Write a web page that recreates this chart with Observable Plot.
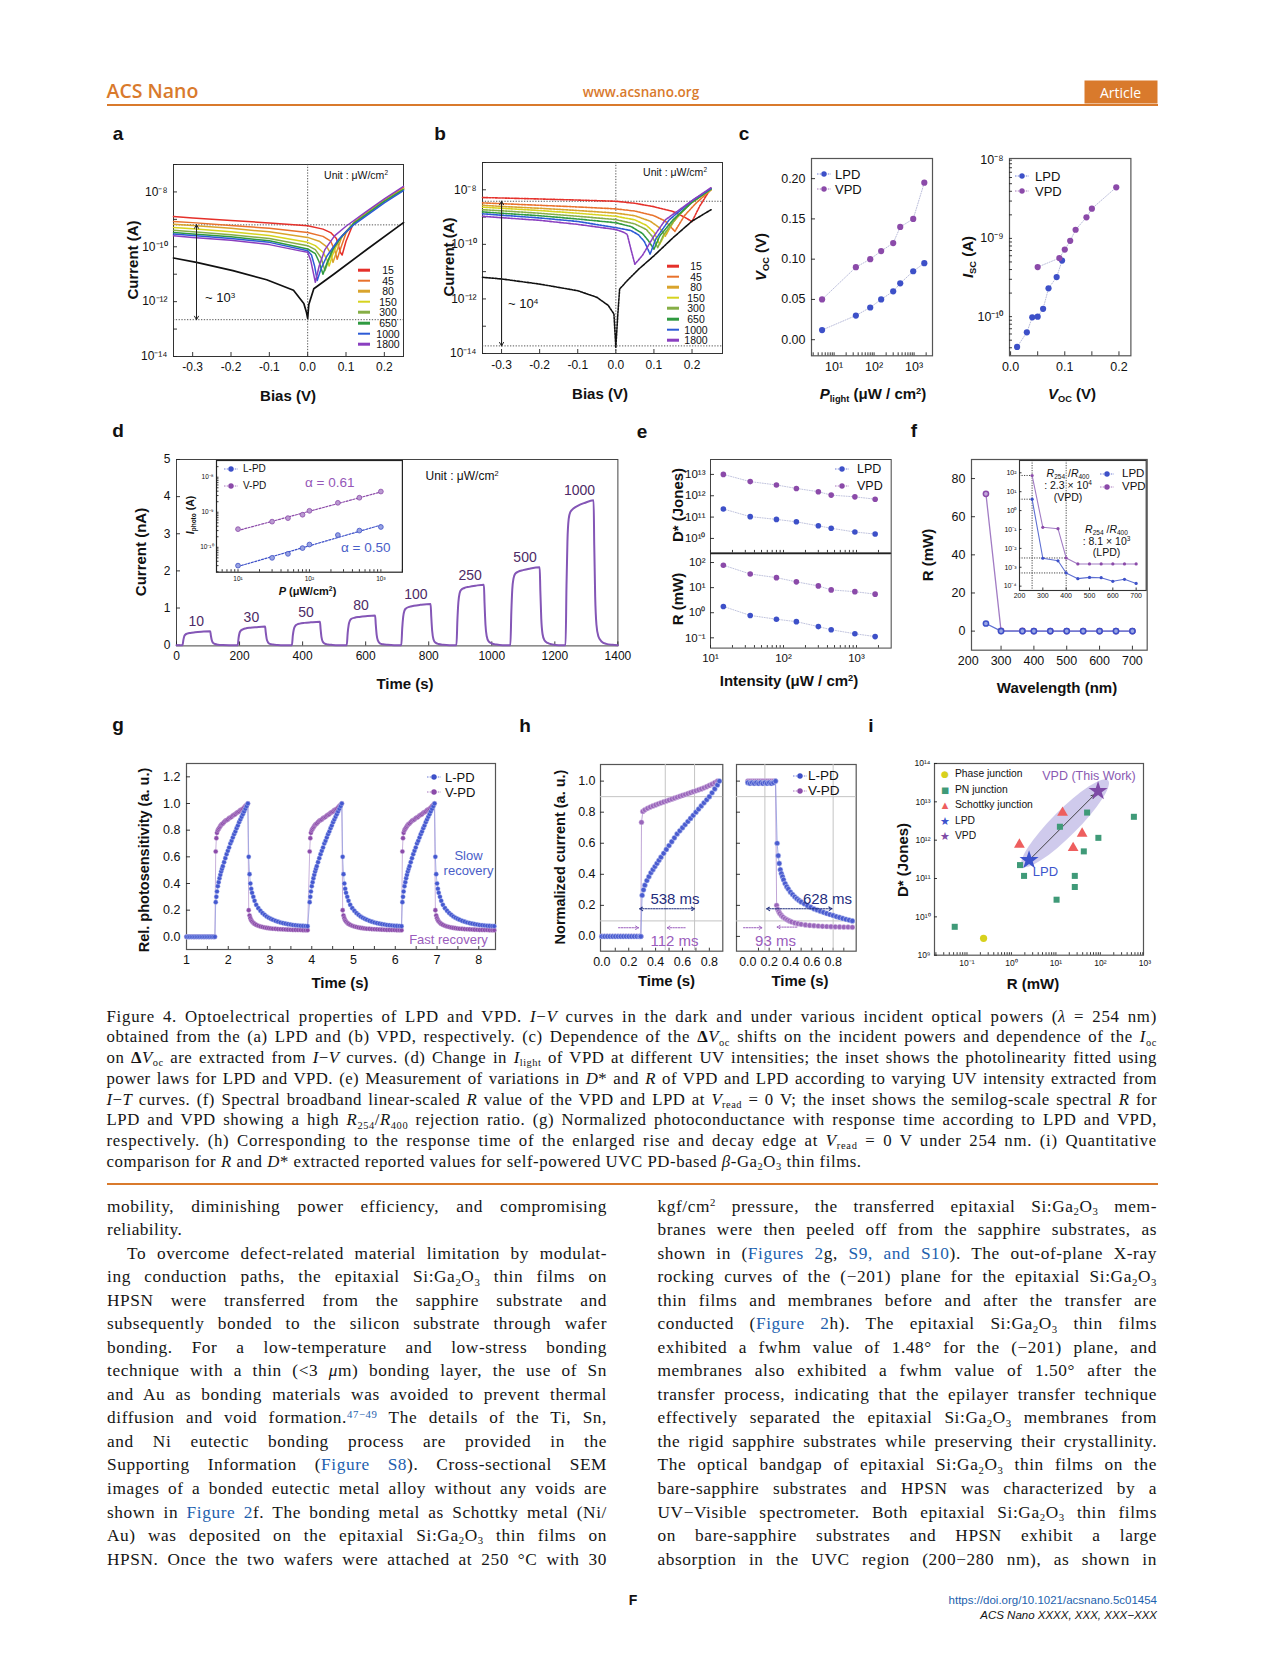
<!DOCTYPE html>
<html><head><meta charset="utf-8">
<script src="https://cdn.jsdelivr.net/npm/d3@7"></script>
<script src="https://cdn.jsdelivr.net/npm/@observablehq/plot@0.6"></script>
<style>
html,body{margin:0;padding:0;background:#fff}
#page{position:relative;width:1266px;height:1669px;overflow:hidden;background:#fff}
#page > svg{position:absolute;overflow:visible}
.t{position:absolute;white-space:nowrap;line-height:1}
.t sup,.ln sup{font-size:0.62em;vertical-align:0;position:relative;top:-0.55em;line-height:0}
.t sub,.ln sub{font-size:0.62em;vertical-align:0;position:relative;top:0.32em;line-height:0}
.ln{position:absolute;white-space:nowrap;font-family:"Liberation Serif","Times New Roman",serif;color:#151515;line-height:1}
.lk{color:#1d5fae}
</style></head><body><div id="page"></div><script>
// ================= DATA =================
// (a) LPD I-V curves, intensities in uW/cm2
const powers = [15, 45, 80, 150, 300, 650, 1000, 1800];
const curveColors = ['#e5302a', '#e8722c', '#d9a42c', '#d6d31f', '#86ae46', '#2f9a40', '#2d5bd6', '#8a3fc0'];
const aBiasDark = [-0.35, -0.29, -0.195, -0.107, -0.037, -0.01, -0.003, 0, 0.003, 0.016, 0.068, 0.156, 0.25];
const aCurrDark = [3.9e-11, 2.7e-11, 1.35e-11, 6.3e-12, 2.6e-12, 8.5e-13, 4.0e-13, 2.45e-13, 7.9e-13, 2.95e-12, 1.0e-11, 8.3e-11, 7.6e-10];
const aBias = [
  [-0.35, -0.3, -0.2, -0.1, 0, 0.04, 0.06, 0.075, 0.085, 0.09, 0.1, 0.12, 0.15, 0.2, 0.25],
  [-0.35, -0.3, -0.2, -0.1, 0, 0.04, 0.06, 0.07, 0.077, 0.085, 0.1, 0.12, 0.15, 0.2, 0.25],
  [-0.35, -0.3, -0.2, -0.1, 0, 0.03, 0.05, 0.06, 0.066, 0.075, 0.09, 0.12, 0.15, 0.2, 0.25],
  [-0.35, -0.3, -0.2, -0.1, 0, 0.02, 0.04, 0.05, 0.056, 0.065, 0.08, 0.1, 0.12, 0.15, 0.2, 0.25],
  [-0.35, -0.3, -0.2, -0.1, 0, 0.02, 0.035, 0.045, 0.055, 0.07, 0.09, 0.12, 0.15, 0.2, 0.25],
  [-0.35, -0.3, -0.2, -0.1, 0, 0.02, 0.03, 0.04, 0.05, 0.065, 0.085, 0.12, 0.15, 0.2, 0.25],
  [-0.35, -0.3, -0.2, -0.1, 0, 0.01, 0.018, 0.025, 0.035, 0.05, 0.08, 0.1, 0.12, 0.15, 0.2, 0.25],
  [-0.35, -0.3, -0.2, -0.1, -0.02, 0, 0.008, 0.015, 0.02, 0.03, 0.045, 0.07, 0.1, 0.15, 0.2, 0.25]
];
const aCurr = [
  [1.26e-9, 1.12e-9, 9.1e-10, 7.4e-10, 5.8e-10, 4.4e-10, 3.3e-10, 2.0e-10, 6.3e-11, 5.0e-11, 1.6e-10, 7.6e-10, 1.6e-9, 5.0e-9, 1.4e-8],
  [8.3e-10, 7.6e-10, 6.0e-10, 4.7e-10, 3.3e-10, 2.4e-10, 1.6e-10, 7.9e-11, 3.5e-11, 7.9e-11, 3.2e-10, 7.1e-10, 1.6e-9, 5.0e-9, 1.38e-8],
  [6.6e-10, 6.0e-10, 4.7e-10, 3.5e-10, 2.2e-10, 1.6e-10, 1.0e-10, 5.6e-11, 2.7e-11, 6.3e-11, 2.5e-10, 7.1e-10, 1.5e-9, 4.8e-9, 1.32e-8],
  [5.0e-10, 4.5e-10, 3.5e-10, 2.6e-10, 1.45e-10, 1.1e-10, 6.3e-11, 3.5e-11, 2.0e-11, 5.0e-11, 1.6e-10, 3.5e-10, 7.1e-10, 1.5e-9, 4.7e-9, 1.26e-8],
  [4.0e-10, 3.5e-10, 2.75e-10, 2.0e-10, 1.1e-10, 7.9e-11, 4.0e-11, 1.35e-11, 3.2e-11, 1.0e-10, 2.5e-10, 7.1e-10, 1.45e-9, 4.6e-9, 1.26e-8],
  [3.3e-10, 2.95e-10, 2.3e-10, 1.66e-10, 8.3e-11, 5.6e-11, 2.8e-11, 1.0e-11, 2.5e-11, 7.9e-11, 2.0e-10, 7.1e-10, 1.4e-9, 4.5e-9, 1.2e-8],
  [2.9e-10, 2.6e-10, 2.0e-10, 1.45e-10, 7.2e-11, 5.0e-11, 2.0e-11, 5.9e-12, 1.6e-11, 4.5e-11, 1.8e-10, 3.5e-10, 6.3e-10, 1.26e-9, 4.0e-9, 1.12e-8],
  [2.5e-10, 2.2e-10, 1.74e-10, 1.2e-10, 7.1e-11, 6.3e-11, 3.2e-11, 1.1e-11, 5.1e-12, 2.0e-11, 7.9e-11, 2.5e-10, 5.6e-10, 1.8e-9, 5.6e-9, 1.6e-8]
];
const aRefLevels = [6.3e-10, 2.2e-13];
const aArrowBias = -0.29;

// (b) VPD I-V curves
const bBiasDark = [-0.35, -0.3, -0.2, -0.1, -0.05, -0.02, -0.005, 0, 0.005, 0.01, 0.03, 0.06, 0.1, 0.15, 0.2, 0.25];
const bCurrDark = [6.2e-12, 5.4e-12, 3.5e-12, 2.0e-12, 1.15e-12, 5.8e-13, 2.8e-13, 1.7e-14, 2.5e-13, 2.3e-12, 4.7e-12, 1.23e-11, 3.8e-11, 1.74e-10, 7.1e-10, 1.86e-9];
const bBias = [
  [-0.35, -0.3, -0.2, -0.1, 0, 0.05, 0.1, 0.15, 0.18, 0.2, 0.22, 0.25],
  [-0.35, -0.3, -0.2, -0.1, 0, 0.05, 0.1, 0.13, 0.155, 0.18, 0.21, 0.25],
  [-0.35, -0.3, -0.2, -0.1, 0, 0.05, 0.09, 0.115, 0.13, 0.15, 0.19, 0.25],
  [-0.35, -0.3, -0.2, -0.1, 0, 0.05, 0.08, 0.1, 0.115, 0.13, 0.16, 0.2, 0.25],
  [-0.35, -0.3, -0.2, -0.1, 0, 0.05, 0.08, 0.095, 0.11, 0.125, 0.16, 0.2, 0.25],
  [-0.35, -0.3, -0.2, -0.1, 0, 0.04, 0.07, 0.085, 0.1, 0.115, 0.15, 0.2, 0.25],
  [-0.35, -0.3, -0.2, -0.1, 0, 0.04, 0.06, 0.075, 0.09, 0.105, 0.14, 0.2, 0.25],
  [-0.35, -0.3, -0.2, -0.1, 0, 0.02, 0.03, 0.04, 0.05, 0.07, 0.1, 0.13, 0.17, 0.21, 0.25]
];
const bCurr = [
  [5.2e-9, 5.0e-9, 4.6e-9, 4.2e-9, 3.8e-9, 3.2e-9, 2.4e-9, 1.6e-9, 1.0e-9, 6.8e-10, 2.5e-9, 1.15e-8],
  [3.3e-9, 3.1e-9, 2.7e-9, 2.35e-9, 2.0e-9, 1.66e-9, 1.12e-9, 7.1e-10, 3.0e-10, 1.12e-9, 3.2e-9, 1.0e-8],
  [2.7e-9, 2.45e-9, 2.1e-9, 1.74e-9, 1.4e-9, 1.12e-9, 7.1e-10, 4.0e-10, 2.0e-10, 6.3e-10, 2.8e-9, 1.0e-8],
  [2.3e-9, 2.1e-9, 1.74e-9, 1.38e-9, 1.07e-9, 7.9e-10, 5.0e-10, 2.8e-10, 1.0e-10, 2.5e-10, 1.0e-9, 3.5e-9, 1.05e-8],
  [1.86e-9, 1.7e-9, 1.38e-9, 1.07e-9, 8.1e-10, 5.6e-10, 3.5e-10, 2.0e-10, 7.6e-11, 2.2e-10, 1.0e-9, 3.5e-9, 1.05e-8],
  [1.55e-9, 1.38e-9, 1.12e-9, 8.5e-10, 6.2e-10, 4.5e-10, 2.5e-10, 1.4e-10, 6.6e-11, 2.0e-10, 7.9e-10, 3.5e-9, 1.07e-8],
  [1.32e-9, 1.17e-9, 9.3e-10, 6.9e-10, 4.1e-10, 3.2e-10, 2.2e-10, 1.26e-10, 4.4e-11, 1.6e-10, 7.9e-10, 4.0e-9, 1.12e-8],
  [1.07e-9, 9.5e-10, 7.6e-10, 5.4e-10, 3.5e-10, 2.8e-10, 2.3e-10, 6.3e-11, 1.86e-11, 4.0e-11, 2.0e-10, 7.9e-10, 2.0e-9, 5.0e-9, 1.2e-8]
];
const bRefLevels = [3.8e-9, 1.9e-14];
const bArrowBias = -0.3;

// (c) Voc vs P and Isc vs Voc
const cPower = [5, 35, 80, 150, 300, 450, 950, 1800];
const cVocLPD = [0.012, 0.030, 0.040, 0.050, 0.060, 0.070, 0.085, 0.095];
const cVocVPD = [0.050, 0.090, 0.100, 0.110, 0.120, 0.140, 0.150, 0.195];
const cIscLPD = [4.1e-11, 6.3e-11, 9.8e-11, 1.0e-10, 1.26e-10, 2.3e-10, 3.2e-10, 5.2e-10];
const cIscVPD = [4.3e-10, 5.6e-10, 7.2e-10, 9.3e-10, 1.29e-9, 1.86e-9, 2.4e-9, 4.5e-9];

// (d) transient photocurrent of VPD
const dTime = [0, 19, 22, 25, 29, 34, 44, 59, 79, 107, 109, 112, 116, 122, 132, 147, 167,
  194, 197, 200, 204, 209, 219, 234, 254, 281, 283, 286, 290, 296, 306, 321, 341,
  366, 369, 372, 376, 381, 391, 406, 426, 455, 457, 460, 464, 470, 480, 495, 515,
  540, 543, 546, 550, 555, 565, 580, 600, 630, 632, 635, 639, 645, 655, 670, 690,
  713, 716, 719, 723, 728, 738, 753, 773, 806, 808, 811, 815, 821, 831, 846, 866,
  888, 891, 894, 898, 903, 913, 928, 948, 975, 977, 980, 984, 990, 1000, 1015, 1035,
  1059, 1062, 1065, 1069, 1074, 1084, 1099, 1119, 1152, 1154, 1157, 1161, 1167, 1177, 1192, 1212,
  1234, 1237, 1240, 1244, 1249, 1259, 1274, 1294, 1323, 1325, 1328, 1332, 1338, 1348, 1363, 1383, 1400];
const dCurrent = [0, 0, 0.15, 0.25, 0.29, 0.31, 0.33, 0.345, 0.36, 0.376, 0.26, 0.13, 0.06, 0.03, 0.012, 0.004, 0,
  0, 0.2, 0.33, 0.39, 0.42, 0.45, 0.47, 0.485, 0.50, 0.35, 0.17, 0.08, 0.035, 0.015, 0.005, 0,
  0, 0.26, 0.42, 0.51, 0.55, 0.58, 0.6, 0.615, 0.63, 0.44, 0.21, 0.09, 0.04, 0.018, 0.006, 0,
  0, 0.33, 0.54, 0.66, 0.71, 0.74, 0.76, 0.78, 0.80, 0.56, 0.27, 0.12, 0.05, 0.022, 0.008, 0,
  0, 0.46, 0.76, 0.93, 0.99, 1.03, 1.06, 1.085, 1.11, 0.78, 0.38, 0.16, 0.07, 0.03, 0.01, 0,
  0, 0.68, 1.15, 1.4, 1.49, 1.54, 1.57, 1.60, 1.63, 1.14, 0.55, 0.24, 0.1, 0.045, 0.015, 0,
  0, 0.88, 1.5, 1.8, 1.92, 1.98, 2.02, 2.06, 2.10, 1.47, 0.71, 0.3, 0.13, 0.06, 0.02, 0,
  0, 1.6, 2.8, 3.4, 3.58, 3.68, 3.76, 3.83, 3.90, 2.7, 1.3, 0.55, 0.24, 0.1, 0.035, 0.01, 0];
const dPulseOn = [19, 194, 366, 540, 713, 888, 1059, 1234];
const dPulseOff = [107, 281, 455, 630, 806, 975, 1152, 1323];
const dPulsePeak = [0.376, 0.50, 0.63, 0.80, 1.11, 1.63, 2.10, 3.90];
const dPulseLabel = ['10', '30', '50', '80', '100', '250', '500', '1000'];
// (d) inset photolinearity
const dInsetP = [10, 30, 50, 80, 100, 250, 500, 1000];
const dInsetVPD = [3.3e-10, 5.4e-10, 6.8e-10, 8.5e-10, 1.1e-9, 1.86e-9, 2.6e-9, 3.9e-9];
const dInsetLPD = [3.0e-11, 5.0e-11, 6.5e-11, 9.5e-11, 1.2e-10, 2.24e-10, 3.0e-10, 3.8e-10];

// (e) D* and R vs intensity
const eIntensity = [15, 35, 80, 150, 300, 450, 950, 1800];
const eDetVPD = [1.0e13, 4.6e12, 3.2e12, 2.2e12, 1.55e12, 1.07e12, 8.9e11, 6.9e11];
const eDetLPD = [2.4e11, 1.05e11, 7.8e10, 6.0e10, 3.9e10, 3.0e10, 2.0e10, 1.6e10];
const eRespVPD = [78, 35, 25, 17, 11.7, 8.1, 6.9, 5.5];
const eRespLPD = [1.78, 0.78, 0.55, 0.44, 0.28, 0.21, 0.145, 0.112];

// (f) spectral responsivity
const fWavelength = [254, 300, 365, 400, 450, 500, 550, 600, 650, 700];
const fRespVPD = [72, 0.13, 0.11, 0.0031, 0.0015, 0.0015, 0.0015, 0.0015, 0.0015, 0.0015];
const fRespLPD = [4.0, 0.003, 0.0022, 0.0005, 0.00025, 0.00029, 0.00028, 0.00018, 0.00023, 0.00014];

// (g) normalized transient response (shape read per edge, three pulses)
const gPulseOn = [1.70, 3.95, 6.17];
const gBaseTime = [1.0, 1.04, 1.08, 1.12, 1.16, 1.2, 1.24, 1.28, 1.32, 1.36, 1.4, 1.44, 1.48, 1.52, 1.56, 1.6, 1.64, 1.68];
const gRiseTau = [0, 0.015, 0.03, 0.05, 0.07, 0.09, 0.11, 0.13, 0.15, 0.17, 0.2, 0.23, 0.26, 0.29, 0.32, 0.35, 0.38, 0.41, 0.44, 0.47, 0.5, 0.53, 0.56, 0.59, 0.62, 0.65, 0.68, 0.71, 0.74, 0.77];
const gRiseLPD = [0.26, 0.3, 0.34, 0.38, 0.41, 0.44, 0.465, 0.49, 0.51, 0.53, 0.56, 0.59, 0.62, 0.645, 0.67, 0.7, 0.72, 0.745, 0.77, 0.79, 0.815, 0.835, 0.86, 0.88, 0.9, 0.92, 0.94, 0.96, 0.98, 1.0];
const gRiseVPD = [0.64, 0.74, 0.78, 0.8, 0.81, 0.82, 0.83, 0.84, 0.845, 0.85, 0.86, 0.87, 0.875, 0.88, 0.89, 0.895, 0.9, 0.91, 0.915, 0.92, 0.93, 0.935, 0.94, 0.95, 0.955, 0.96, 0.97, 0.98, 0.99, 1.0];
const gDecayTau = [0.02, 0.04, 0.06, 0.08, 0.1, 0.13, 0.16, 0.2, 0.25, 0.3, 0.35, 0.4, 0.45, 0.5, 0.55, 0.6, 0.66, 0.72, 0.78, 0.84, 0.9, 0.96, 1.02, 1.08, 1.14, 1.2, 1.26, 1.32, 1.38, 1.43];
const gDecayLPD = [0.6, 0.47, 0.4, 0.36, 0.33, 0.3, 0.27, 0.24, 0.215, 0.195, 0.178, 0.165, 0.153, 0.143, 0.135, 0.128, 0.12, 0.114, 0.108, 0.103, 0.099, 0.095, 0.092, 0.089, 0.087, 0.085, 0.083, 0.082, 0.081, 0.08];
const gDecayVPD = [0.2, 0.16, 0.14, 0.125, 0.115, 0.105, 0.097, 0.09, 0.083, 0.078, 0.074, 0.07, 0.067, 0.065, 0.063, 0.061, 0.06, 0.058, 0.057, 0.056, 0.055, 0.054, 0.053, 0.052, 0.052, 0.051, 0.051, 0.05, 0.05, 0.05];

// (h) enlarged rise (left) and decay (right)
const hRiseTimeLPD = [0, 0.02, 0.04, 0.06, 0.08, 0.1, 0.12, 0.14, 0.16, 0.18, 0.2, 0.22, 0.24, 0.26, 0.28, 0.29, 0.30, 0.31, 0.32, 0.335, 0.35, 0.365, 0.38, 0.395, 0.41, 0.425, 0.44, 0.46, 0.48, 0.5, 0.52, 0.54, 0.56, 0.58, 0.6, 0.62, 0.64, 0.66, 0.68, 0.7, 0.72, 0.74, 0.76, 0.78, 0.8, 0.82, 0.84, 0.86, 0.875];
const hRiseLPD = [0, 0, 0, 0, 0, 0, 0, 0, 0, 0, 0, 0, 0, 0, 0, 0, 0.265, 0.30, 0.33, 0.36, 0.385, 0.41, 0.43, 0.45, 0.47, 0.49, 0.51, 0.535, 0.56, 0.585, 0.61, 0.635, 0.66, 0.68, 0.70, 0.72, 0.74, 0.76, 0.78, 0.80, 0.82, 0.84, 0.86, 0.88, 0.90, 0.925, 0.95, 0.975, 1.0];
const hRiseTimeVPD = [0, 0.02, 0.04, 0.06, 0.08, 0.1, 0.12, 0.14, 0.16, 0.18, 0.2, 0.22, 0.24, 0.26, 0.28, 0.29, 0.295, 0.305, 0.32, 0.34, 0.36, 0.38, 0.4, 0.42, 0.44, 0.46, 0.48, 0.5, 0.52, 0.54, 0.56, 0.58, 0.6, 0.62, 0.64, 0.66, 0.68, 0.7, 0.72, 0.74, 0.76, 0.78, 0.8, 0.82, 0.84, 0.86];
const hRiseVPD = [0, 0, 0, 0, 0, 0, 0, 0, 0, 0, 0, 0, 0, 0, 0, 0, 0.735, 0.805, 0.815, 0.825, 0.833, 0.84, 0.847, 0.854, 0.86, 0.866, 0.872, 0.878, 0.884, 0.89, 0.896, 0.902, 0.908, 0.914, 0.92, 0.926, 0.932, 0.938, 0.944, 0.95, 0.957, 0.964, 0.972, 0.98, 0.99, 1.0];
const hDecayTimeLPD = [0, 0.02, 0.04, 0.06, 0.08, 0.1, 0.12, 0.14, 0.16, 0.18, 0.2, 0.22, 0.24, 0.26, 0.275, 0.285, 0.295, 0.305, 0.315, 0.325, 0.335, 0.35, 0.365, 0.38, 0.4, 0.42, 0.44, 0.46, 0.48, 0.5, 0.53, 0.56, 0.59, 0.62, 0.65, 0.68, 0.71, 0.74, 0.77, 0.8, 0.83, 0.86, 0.89, 0.92, 0.95, 0.98];
const hDecayLPD = [0.99, 0.985, 0.99, 0.985, 0.99, 0.985, 0.99, 0.985, 0.99, 0.985, 0.99, 0.985, 0.99, 1.0, 0.60, 0.52, 0.47, 0.43, 0.405, 0.385, 0.365, 0.34, 0.32, 0.305, 0.285, 0.27, 0.255, 0.243, 0.232, 0.222, 0.21, 0.198, 0.188, 0.178, 0.17, 0.162, 0.155, 0.148, 0.141, 0.135, 0.128, 0.122, 0.116, 0.11, 0.105, 0.1];
const hDecayTimeVPD = [0, 0.02, 0.04, 0.06, 0.08, 0.1, 0.12, 0.14, 0.16, 0.18, 0.2, 0.22, 0.24, 0.26, 0.27, 0.28, 0.29, 0.3, 0.315, 0.33, 0.35, 0.37, 0.39, 0.41, 0.44, 0.47, 0.5, 0.54, 0.58, 0.62, 0.66, 0.7, 0.74, 0.78, 0.82, 0.86, 0.9, 0.94, 0.98];
const hDecayVPD = [1, 1, 1, 1, 1, 1, 1, 1, 1, 1, 1, 1, 1, 1, 0.2, 0.175, 0.16, 0.148, 0.135, 0.125, 0.115, 0.107, 0.1, 0.094, 0.087, 0.082, 0.078, 0.074, 0.071, 0.069, 0.067, 0.065, 0.064, 0.063, 0.062, 0.061, 0.06, 0.06, 0.059];
const hThresholds = [0.1, 0.9];
const hRiseMarks = [0.472, 0.69];
const hDecayMarks = [0.16, 0.8];

// (i) benchmark R vs D*
const iPhaseR = [0.236], iPhaseD = [2.75e9];
const iPNR = [0.053, 1.56, 1.92, 10.35, 12.3, 26.6, 26.6, 42.4, 50.3, 90.2, 567];
const iPND = [5.5e9, 2.24e11, 1.17e11, 2.8e10, 2.24e12, 1.17e11, 6.0e10, 5.1e11, 5.25e12, 1.15e12, 4.07e12];
const iSchR = [1.51, 14.1, 24.4, 38.9];
const iSchD = [7.7e11, 5.2e12, 6.3e11, 1.49e12];
const iLPD = {R: 2.49, D: 3.0e11};
const iVPD = {R: 88.7, D: 1.9e13};

// ================= HELPERS =================
const FONT = '"Liberation Sans", Arial, Helvetica, sans-serif';
const page = document.getElementById('page');
const BLUE = '#3d50c8', PURPLE = '#8b4aa9', NAVY = '#1f2d7d';
const SUPS = {'-': '⁻', '0': '⁰', '1': '¹', '2': '²', '3': '³', '4': '⁴', '5': '⁵', '6': '⁶', '7': '⁷', '8': '⁸', '9': '⁹'};
const p10 = d => '10' + String(Math.round(Math.log10(d))).split('').map(c => SUPS[c]).join('');
const f0 = d => String(d), f1 = d => d.toFixed(1), f2 = d => d.toFixed(2);
const zip = (xs, ys) => xs.map((x, i) => ({x, y: ys[i]}));
const decades = (a, b) => d3.range(a, b + 1).map(k => Math.pow(10, k));
function logMinor(lo, hi) {
  const out = [];
  for (let k = Math.floor(Math.log10(lo)); k <= Math.ceil(Math.log10(hi)); k++)
    for (let m = 1; m < 10; m++) { const v = m * Math.pow(10, k); if (v >= lo && v <= hi) out.push(v); }
  return out;
}
function inX(vals, fh, len = 4) { return Plot.tickX(vals, {x: d => d, insetTop: fh - len, stroke: '#222', strokeWidth: 0.9}); }
function inY(vals, fw, len = 4) { return Plot.tickY(vals, {y: d => d, insetRight: fw - len, stroke: '#222', strokeWidth: 0.9}); }
function mk(fx, fy, fw, fh, m, cfg, fs = 12) {
  const svg = Plot.plot(Object.assign({
    width: m[3] + fw + m[1], height: m[0] + fh + m[2],
    marginTop: m[0], marginRight: m[1], marginBottom: m[2], marginLeft: m[3],
    style: {fontFamily: FONT, fontSize: fs + 'px', color: '#111', background: 'transparent', overflow: 'visible'}
  }, cfg));
  svg.style.position = 'absolute';
  svg.style.left = (fx - m[3]) + 'px';
  svg.style.top = (fy - m[0]) + 'px';
  page.appendChild(svg);
  return svg;
}
function put(html, x, y, o = {}) {
  const d = document.createElement('div');
  d.className = 't';
  d.innerHTML = html;
  const s = d.style;
  s.left = x + 'px'; s.top = y + 'px';
  s.fontFamily = o.family || FONT;
  s.fontSize = (o.size || 12) + 'px';
  if (o.weight) s.fontWeight = o.weight;
  if (o.italic) s.fontStyle = 'italic';
  if (o.lh) { s.lineHeight = o.lh; s.textAlign = o.talign || 'center'; }
  s.color = o.color || '#111';
  const tx = o.align === 'left' ? '0' : o.align === 'right' ? '-100%' : '-50%';
  s.transform = `translate(${tx},-50%)` + (o.rot ? ` rotate(${o.rot}deg)` : '');
  page.appendChild(d);
  return d;
}
function legMarker(x, y, color, w = 14, r = 2.7) {
  put(`<svg width="${w}" height="${2 * r + 2}" style="display:block;overflow:visible"><line x1="0" y1="${r + 1}" x2="${w}" y2="${r + 1}" stroke="${color}" stroke-width="1" stroke-dasharray="1.5,1.2" opacity="0.75"/><circle cx="${w / 2}" cy="${r + 1}" r="${r}" fill="${color}"/></svg>`, x, y);
}
function legPair(mx, tx, y1, y2, size, names) {
  legMarker(mx, y1, BLUE); legMarker(mx, y2, PURPLE);
  put(names[0], tx, y1, {size, align: 'left'});
  put(names[1], tx, y2, {size, align: 'left'});
}
function legLine(x, y, color) {
  put(`<div style="width:12px;height:2.6px;background:${color}"></div>`, x, y);
}
const title = (html, x, y, rot, size = 15) => put(html, x, y, {size, weight: 'bold', rot});
const panelLetter = (l, x, y) => put(l, x, y, {size: 19, weight: 'bold'});

// ================= HEADER =================
const ORANGE = '#d97a2c';
put('ACS Nano', 106.5, 91, {size: 19.5, weight: 600, color: ORANGE, align: 'left', family: '"Open Sans", "Noto Sans", sans-serif'});
put('www.acsnano.org', 641, 93, {size: 13.5, weight: 600, color: ORANGE, family: '"Open Sans", "Noto Sans", sans-serif'});
put('<div style="width:73px;height:23px;line-height:23px;text-align:center;background:' + ORANGE + ';color:#fff">Article</div>', 1120.5, 91.5, {size: 14, family: '"Open Sans", "Noto Sans", sans-serif'});
put(`<div style="width:1051px;height:2px;background:${ORANGE}"></div>`, 106.5, 104.5, {align: 'left'});
put(`<div style="width:1051px;height:2px;background:${ORANGE}"></div>`, 106.5, 1184, {align: 'left'});

// ================= PANEL A =================
panelLetter('a', 118, 133);
{
  const marks = [Plot.frame({stroke: '#333'}), inX([-0.3, -0.2, -0.1, 0, 0.1, 0.2], 192), inY(decades(-14, -7), 230),
    Plot.ruleX([0], {stroke: '#444', strokeDasharray: '1.3,1.5', strokeWidth: 0.9}),
    Plot.ruleY(aRefLevels, {stroke: '#444', strokeDasharray: '1.3,1.5', strokeWidth: 0.9})];
  aBias.forEach((b, i) => marks.push(Plot.line(zip(b, aCurr[i]), {x: 'x', y: 'y', stroke: curveColors[i], strokeWidth: 1.5})));
  marks.push(Plot.line(zip(aBiasDark, aCurrDark), {x: 'x', y: 'y', stroke: '#111', strokeWidth: 1.7}));
  const arr = [{x: aArrowBias, y1: aRefLevels[0], y2: aRefLevels[1]}];
  marks.push(Plot.arrow(arr, {x1: 'x', x2: 'x', y1: 'y1', y2: 'y2', stroke: '#222', strokeWidth: 1, headLength: 6}));
  marks.push(Plot.arrow(arr, {x1: 'x', x2: 'x', y1: 'y2', y2: 'y1', stroke: '#222', strokeWidth: 1, headLength: 6}));
  mk(173, 164, 230, 192, [14, 8, 26, 63], {
    x: {domain: [-0.35, 0.25], ticks: [-0.3, -0.2, -0.1, 0, 0.1, 0.2], tickFormat: f1, tickSize: 0, tickPadding: 6, label: null},
    y: {type: 'log', domain: [1e-14, 1e-7], ticks: [1e-14, 1e-12, 1e-10, 1e-8], tickFormat: p10, tickSize: 0, tickPadding: 6, label: null},
    marks
  }, 12);
  put('Unit : μW/cm<sup>2</sup>', 388, 175, {size: 10.5, align: 'right'});
  put('~ 10<sup>3</sup>', 205, 297, {size: 13, align: 'left'});
  powers.forEach((p, i) => { const y = 270 + i * 10.6; legLine(364, y, curveColors[i]); put(String(p), 388, y, {size: 10.5}); });
  title('Current (A)', 131.5, 260, -90);
  title('Bias (V)', 288, 395, 0);
}

// ================= PANEL B =================
panelLetter('b', 440, 133);
{
  const marks = [Plot.frame({stroke: '#333'}), inX([-0.3, -0.2, -0.1, 0, 0.1, 0.2], 191), inY(decades(-14, -7), 240),
    Plot.ruleX([0], {stroke: '#444', strokeDasharray: '1.3,1.5', strokeWidth: 0.9}),
    Plot.ruleY(bRefLevels, {stroke: '#444', strokeDasharray: '1.3,1.5', strokeWidth: 0.9})];
  bBias.forEach((b, i) => marks.push(Plot.line(zip(b, bCurr[i]), {x: 'x', y: 'y', stroke: curveColors[i], strokeWidth: 1.6, strokeDasharray: '2,1.2'})));
  marks.push(Plot.line(zip(bBiasDark, bCurrDark), {x: 'x', y: 'y', stroke: '#111', strokeWidth: 1.6, strokeDasharray: '2,1.2'}));
  const arr = [{x: bArrowBias, y1: bRefLevels[0], y2: bRefLevels[1]}];
  marks.push(Plot.arrow(arr, {x1: 'x', x2: 'x', y1: 'y1', y2: 'y2', stroke: '#222', strokeWidth: 1, headLength: 6}));
  marks.push(Plot.arrow(arr, {x1: 'x', x2: 'x', y1: 'y2', y2: 'y1', stroke: '#222', strokeWidth: 1, headLength: 6}));
  mk(482, 162, 240, 191, [14, 8, 26, 62], {
    x: {domain: [-0.35, 0.28], ticks: [-0.3, -0.2, -0.1, 0, 0.1, 0.2], tickFormat: f1, tickSize: 0, tickPadding: 7, label: null},
    y: {type: 'log', domain: [1e-14, 1e-7], ticks: [1e-14, 1e-12, 1e-10, 1e-8], tickFormat: p10, tickSize: 0, tickPadding: 6, label: null},
    marks
  }, 12);
  put('Unit : μW/cm<sup>2</sup>', 707, 172, {size: 10.5, align: 'right'});
  put('~ 10<sup>4</sup>', 508, 303, {size: 13, align: 'left'});
  powers.forEach((p, i) => { const y = 266 + i * 10.6; legLine(673, y, curveColors[i]); put(String(p), 696, y, {size: 10.5}); });
  title('Current (A)', 448, 257, -90);
  title('Bias (V)', 600, 393, 0);
}

// ================= PANEL C =================
panelLetter('c', 744, 133);
{
  const conn = {x: 'x', y: 'y', stroke: '#a8acd0', strokeWidth: 0.8, strokeDasharray: '1,1.5'};
  mk(810.7, 157.7, 121, 197.3, [13, 6, 27, 61], {
    x: {type: 'log', domain: [2.72, 2884], ticks: [10, 100, 1000], tickFormat: p10, tickSize: 0, tickPadding: 6, label: null},
    y: {domain: [-0.02, 0.225], ticks: [0, 0.05, 0.1, 0.15, 0.2], tickFormat: f2, tickSize: 0, tickPadding: 6, label: null},
    marks: [Plot.frame({stroke: '#555', strokeWidth: 1.2}), inX(logMinor(2.72, 2884), 197.3, 3), inY([0, 0.05, 0.1, 0.15, 0.2], 121),
      Plot.line(zip(cPower, cVocLPD), conn), Plot.line(zip(cPower, cVocVPD), conn),
      Plot.dot(zip(cPower, cVocLPD), {x: 'x', y: 'y', r: 3.1, fill: BLUE}),
      Plot.dot(zip(cPower, cVocVPD), {x: 'x', y: 'y', r: 3.1, fill: PURPLE})]
  }, 12.5);
  mk(1009.3, 157.7, 121.4, 197.3, [13, 6, 27, 62], {
    x: {domain: [-0.002, 0.222], ticks: [0, 0.1, 0.2], tickFormat: f1, tickSize: 0, tickPadding: 6, label: null},
    y: {type: 'log', domain: [3.16e-11, 1.05e-8], ticks: [1e-10, 1e-9, 1e-8], tickFormat: p10, tickSize: 0, tickPadding: 6, label: null},
    marks: [Plot.frame({stroke: '#555', strokeWidth: 1.2}), inX([0, 0.05, 0.1, 0.15, 0.2], 197.3), inY(logMinor(3.16e-11, 1.05e-8), 121.4, 3),
      Plot.line(zip(cVocLPD, cIscLPD), conn), Plot.line(zip(cVocVPD, cIscVPD), conn),
      Plot.dot(zip(cVocLPD, cIscLPD), {x: 'x', y: 'y', r: 3.1, fill: BLUE}),
      Plot.dot(zip(cVocVPD, cIscVPD), {x: 'x', y: 'y', r: 3.1, fill: PURPLE})]
  }, 12.5);
  legPair(824, 835, 173.5, 189, 13, ['LPD', 'VPD']);
  legPair(1022, 1035, 176, 191, 13, ['LPD', 'VPD']);
  title('<i>V</i><sub>OC</sub> (V)', 760, 257, -90);
  title('<i>P</i><sub>light</sub> (μW / cm<sup>2</sup>)', 873, 393, 0);
  title('<i>I</i><sub>SC</sub> (A)', 966.5, 257, -90);
  title('<i>V</i><sub>OC</sub> (V)', 1072, 393, 0);
}

// ================= PANEL D =================
panelLetter('d', 118, 430);
{
  const labels = dPulseLabel.map((l, i) => ({x: (dPulseOn[i] + dPulseOff[i]) / 2, y: dPulsePeak[i], l}));
  mk(175.8, 459.3, 441.4, 186.4, [14, 8, 26, 66], {
    x: {domain: [0, 1400], ticks: d3.range(0, 1401, 200), tickFormat: f0, tickSize: 0, tickPadding: 6, label: null},
    y: {domain: [-0.02, 5], ticks: [0, 1, 2, 3, 4, 5], tickFormat: f0, tickSize: 0, tickPadding: 6, label: null},
    marks: [Plot.frame({stroke: '#444'}), inX(d3.range(0, 1401, 200), 186.4), inY([0, 1, 2, 3, 4, 5], 441.4),
      Plot.line(zip(dTime, dCurrent), {x: 'x', y: 'y', stroke: '#8456b6', strokeWidth: 2, curve: 'monotone-x'}),
      Plot.text(labels, {x: 'x', y: 'y', text: 'l', lineAnchor: 'bottom', dy: -5, fill: '#4d2a66', fontSize: 14})]
  }, 12);
  // inset
  const fitLine = ys => {
    const lx = dInsetP.map(Math.log10), ly = ys.map(Math.log10);
    const mx = d3.mean(lx), my = d3.mean(ly);
    const s = d3.sum(lx, (v, i) => (v - mx) * (ly[i] - my)) / d3.sum(lx, v => (v - mx) ** 2);
    const ends = [d3.min(dInsetP), d3.max(dInsetP)];
    return ends.map(p => ({x: p, y: Math.pow(10, my + s * (Math.log10(p) - mx))}));
  };
  mk(216.4, 460, 185.9, 111.7, [1, 2, 14, 26], {
    x: {type: 'log', domain: [5.0, 2000], ticks: [10, 100, 1000], tickFormat: p10, tickSize: 0, tickPadding: 4, label: null},
    y: {type: 'log', domain: [1.95e-11, 3.0e-8], ticks: [1e-10, 1e-9, 1e-8], tickFormat: p10, tickSize: 0, tickPadding: 3, label: null},
    marks: [Plot.frame({fill: 'white', stroke: '#222', strokeWidth: 1.2}), inX(logMinor(5, 2000), 111.7, 2.5), inY(logMinor(1.95e-11, 3e-8), 185.9, 2.5),
      Plot.line(fitLine(dInsetVPD), {x: 'x', y: 'y', stroke: PURPLE, strokeWidth: 1.2, strokeDasharray: '2,1.5'}),
      Plot.line(fitLine(dInsetLPD), {x: 'x', y: 'y', stroke: BLUE, strokeWidth: 1.2, strokeDasharray: '2,1.5'}),
      Plot.dot(zip(dInsetP, dInsetVPD), {x: 'x', y: 'y', r: 2.4, fill: '#b99ad0', stroke: PURPLE, strokeWidth: 0.8}),
      Plot.dot(zip(dInsetP, dInsetLPD), {x: 'x', y: 'y', r: 2.4, fill: '#98a2e0', stroke: BLUE, strokeWidth: 0.8})]
  }, 6.5);
  legPair(231, 243, 469, 486, 10, ['L-PD', 'V-PD']);
  put('α = 0.61', 305, 483, {size: 13.5, color: '#9557b8', align: 'left'});
  put('α = 0.50', 341, 548, {size: 13.5, color: '#4a5ec8', align: 'left'});
  put('Unit : μW/cm<sup>2</sup>', 425.5, 476, {size: 12, align: 'left'});
  title('<i>I</i><sub>photo</sub> (A)', 190, 515, -90, 10.5);
  title('<i>P</i> (μW/cm<sup>2</sup>)', 307.5, 591, 0, 11);
  title('Current (nA)', 139.5, 552, -90);
  title('Time (s)', 405, 683, 0);
}

// ================= PANEL E =================
panelLetter('e', 642, 431);
{
  const dotl = {x: 'x', y: 'y', stroke: '#b0b4d4', strokeWidth: 0.8, strokeDasharray: '1,1.5'};
  const xs = {type: 'log', domain: [10, 2985]};
  mk(710, 459.3, 180.7, 93.4, [10, 6, 0, 52], {
    x: Object.assign({axis: null}, xs),
    y: {type: 'log', domain: [2.1e9, 5.0e13], ticks: [1e10, 1e11, 1e12, 1e13], tickFormat: p10, tickSize: 0, tickPadding: 5, label: null},
    marks: [Plot.frame({stroke: '#444'}), inX(logMinor(10, 2985), 93.4, 2.5), inY(decades(10, 13), 180.7),
      Plot.line(zip(eIntensity, eDetVPD), dotl), Plot.line(zip(eIntensity, eDetLPD), dotl),
      Plot.dot(zip(eIntensity, eDetVPD), {x: 'x', y: 'y', r: 2.8, fill: PURPLE}),
      Plot.dot(zip(eIntensity, eDetLPD), {x: 'x', y: 'y', r: 2.8, fill: BLUE})]
  }, 11.5);
  mk(710, 552.7, 180.7, 94.6, [0, 6, 26, 52], {
    x: Object.assign({ticks: [10, 100, 1000], tickFormat: p10, tickSize: 0, tickPadding: 6, label: null}, xs),
    y: {type: 'log', domain: [0.039, 229], ticks: [0.1, 1, 10, 100], tickFormat: p10, tickSize: 0, tickPadding: 5, label: null},
    marks: [Plot.frame({stroke: '#444'}), Plot.ruleY([229], {stroke: '#222', strokeWidth: 1.6}), inX(logMinor(10, 2985), 94.6, 2.5), inY(decades(-1, 2), 180.7),
      Plot.line(zip(eIntensity, eRespVPD), dotl), Plot.line(zip(eIntensity, eRespLPD), dotl),
      Plot.dot(zip(eIntensity, eRespVPD), {x: 'x', y: 'y', r: 2.8, fill: PURPLE}),
      Plot.dot(zip(eIntensity, eRespLPD), {x: 'x', y: 'y', r: 2.8, fill: BLUE})]
  }, 11.5);
  legPair(842, 857, 469, 485.5, 12.5, ['LPD', 'VPD']);
  title('D* (Jones)', 676.5, 505, -90);
  title('R (mW)', 676.5, 599, -90);
  title('Intensity (μW / cm<sup>2</sup>)', 789, 680, 0);
}

// ================= PANEL F =================
panelLetter('f', 914, 430);
{
  mk(971, 459.3, 175.7, 190.7, [10, 6, 26, 50], {
    x: {domain: [210, 745], ticks: [200, 300, 400, 500, 600, 700], tickSize: 0, tickPadding: 6, label: null},
    y: {domain: [-10, 90], ticks: [0, 20, 40, 60, 80], tickSize: 0, tickPadding: 6, label: null},
    marks: [Plot.frame({stroke: '#555', strokeWidth: 1.2}), inX([300, 400, 500, 600, 700], 190.7), inY([0, 20, 40, 60, 80], 175.7),
      Plot.line(zip(fWavelength, fRespVPD), {x: 'x', y: 'y', stroke: '#a27cc4', strokeWidth: 1.3}),
      Plot.line(zip(fWavelength, fRespLPD), {x: 'x', y: 'y', stroke: '#5d6fd2', strokeWidth: 1.3}),
      Plot.dot(zip(fWavelength, fRespVPD), {x: 'x', y: 'y', r: 2.6, fill: '#c3a8dc', stroke: PURPLE}),
      Plot.dot(zip(fWavelength, fRespLPD), {x: 'x', y: 'y', r: 2.6, fill: '#9aa6e6', stroke: BLUE})]
  }, 12.5);
  const fInsetX = [200, 743];
  const refs = [0, 3].flatMap(i => [{y: fRespVPD[i], x2: fWavelength[i]}, {y: fRespLPD[i], x2: fWavelength[i]}]);
  mk(1019.3, 460, 126.7, 130, [1, 1, 13, 22], {
    x: {domain: fInsetX, ticks: [200, 300, 400, 500, 600, 700], tickSize: 0, tickPadding: 3, label: null},
    y: {type: 'log', domain: [5.9e-5, 447], ticks: decades(-4, 2), tickFormat: p10, tickSize: 0, tickPadding: 3, label: null},
    marks: [Plot.frame({fill: 'white', stroke: '#333', strokeWidth: 1.1}), inX([300, 400, 500, 600, 700], 130, 2.5), inY(decades(-4, 2), 126.7, 2.5),
      Plot.ruleX([fWavelength[0], fWavelength[3]], {stroke: '#333', strokeDasharray: '1.2,1.3', strokeWidth: 0.9}),
      Plot.ruleY(refs, {y: 'y', x1: () => fInsetX[0], x2: 'x2', stroke: '#333', strokeDasharray: '1.2,1.3', strokeWidth: 0.9}),
      Plot.line(zip(fWavelength, fRespVPD), {x: 'x', y: 'y', stroke: '#a27cc4', strokeWidth: 1.1}),
      Plot.line(zip(fWavelength, fRespLPD), {x: 'x', y: 'y', stroke: '#5d6fd2', strokeWidth: 1.1}),
      Plot.dot(zip(fWavelength, fRespVPD), {x: 'x', y: 'y', r: 1.6, fill: PURPLE}),
      Plot.dot(zip(fWavelength, fRespLPD), {x: 'x', y: 'y', r: 1.6, fill: BLUE})]
  }, 7);
  put('<i>R</i><sub>254</sub> /<i>R</i><sub>400</sub><br>: 2.3 × 10<sup>4</sup><br>(VPD)', 1068, 484.5, {size: 10.5, lh: '12px'});
  put('<i>R</i><sub>254</sub> /<i>R</i><sub>400</sub><br>: 8.1 × 10<sup>3</sup><br>(LPD)', 1106.5, 541, {size: 10.5, lh: '11.5px'});
  legPair(1107, 1122, 473.5, 487, 11.5, ['LPD', 'VPD']);
  title('R (mW)', 926.5, 555, -90);
  title('Wavelength (nm)', 1057, 687, 0);
}

// ================= PANEL G =================
panelLetter('g', 118, 724);
{
  const L = gBaseTime.map(t => ({x: t, y: 0})), V = gBaseTime.map(t => ({x: t, y: 0}));
  gPulseOn.forEach(on => {
    const off = on + gRiseTau[gRiseTau.length - 1];
    gRiseTau.forEach((tau, j) => { L.push({x: on + tau, y: gRiseLPD[j]}); V.push({x: on + tau, y: gRiseVPD[j]}); });
    gDecayTau.forEach((tau, j) => { L.push({x: off + tau, y: gDecayLPD[j]}); V.push({x: off + tau, y: gDecayVPD[j]}); });
  });
  mk(186, 763.3, 309, 186, [12, 6, 28, 60], {
    x: {domain: [1, 8.4], ticks: [1, 2, 3, 4, 5, 6, 7, 8], tickSize: 0, tickPadding: 6, label: null},
    y: {domain: [-0.095, 1.3], ticks: [0, 0.2, 0.4, 0.6, 0.8, 1.0, 1.2], tickFormat: f1, tickSize: 0, tickPadding: 6, label: null},
    marks: [Plot.frame({stroke: '#555', strokeWidth: 1.2}), inX(d3.range(1.5, 8.4, 0.5), 186, 3), inY([0, 0.2, 0.4, 0.6, 0.8, 1.0, 1.2], 309),
      Plot.line(V, {x: 'x', y: 'y', stroke: '#b08fcc', strokeWidth: 0.7}),
      Plot.line(L, {x: 'x', y: 'y', stroke: '#8e9ae0', strokeWidth: 0.7}),
      Plot.dot(V, {x: 'x', y: 'y', r: 2.3, fill: PURPLE, stroke: '#d9c8e8', strokeWidth: 0.4}),
      Plot.dot(L, {x: 'x', y: 'y', r: 2.3, fill: '#4458d0', stroke: '#c8cff2', strokeWidth: 0.4})]
  }, 12.5);
  legPair(434, 445, 776.5, 791.5, 13, ['L-PD', 'V-PD']);
  put('Slow<br>recovery', 468.5, 863, {size: 13, color: '#4a5ec8', lh: '15px'});
  put('Fast recovery', 448.5, 938.5, {size: 13, color: '#9a5cbc'});
  title('Rel. photosensitivity (a. u.)', 143.5, 860, -90, 14.5);
  title('Time (s)', 340, 982, 0);
}

// ================= PANEL H =================
panelLetter('h', 525, 725);
{
  const yDom = [-0.095, 1.107], yT = [0, 0.2, 0.4, 0.6, 0.8, 1.0];
  const gray = {stroke: '#c4c4c4', strokeWidth: 1};
  const aOpt = c => ({x1: 'x1', x2: 'x2', y1: 'y', y2: 'y', stroke: c, strokeWidth: 1, headLength: 5, strokeDasharray: '1.5,1.2'});
  const riseNavy = [{x1: 0.475, x2: 0.28, y: 0.178}, {x1: 0.48, x2: 0.69, y: 0.178}];
  const risePurple = [{x1: 0.124, x2: 0.273, y: 0.056}, {x1: 0.62, x2: 0.485, y: 0.056}];
  mk(600, 764, 122.3, 186.7, [10, 4, 28, 48], {
    x: {domain: [-0.01, 0.9], ticks: [0, 0.2, 0.4, 0.6, 0.8], tickFormat: f1, tickSize: 0, tickPadding: 6, label: null},
    y: {domain: yDom, ticks: yT, tickFormat: f1, tickSize: 0, tickPadding: 5, label: null},
    marks: [Plot.frame({stroke: '#555', strokeWidth: 1.2}), inX([0.1, 0.2, 0.3, 0.4, 0.5, 0.6, 0.7, 0.8], 186.7, 3), inY(yT, 122.3),
      Plot.ruleY(hThresholds, gray), Plot.ruleX(hRiseMarks, gray),
      Plot.line(zip(hRiseTimeVPD, hRiseVPD), {x: 'x', y: 'y', stroke: '#b08fcc', strokeWidth: 0.8}),
      Plot.line(zip(hRiseTimeLPD, hRiseLPD), {x: 'x', y: 'y', stroke: '#8e9ae0', strokeWidth: 0.8}),
      Plot.dot(zip(hRiseTimeVPD, hRiseVPD), {x: 'x', y: 'y', r: 2.6, fill: '#9a66bb', stroke: '#e2d4ee', strokeWidth: 0.5}),
      Plot.dot(zip(hRiseTimeLPD, hRiseLPD), {x: 'x', y: 'y', r: 2.6, fill: '#4a5cd0', stroke: '#d2d8f4', strokeWidth: 0.5}),
      Plot.arrow(riseNavy, Object.assign(aOpt(NAVY), {strokeWidth: 1.1})),
      Plot.arrow(risePurple, aOpt('#9a5cbc'))]
  }, 12.5);
  const decNavy = [{x1: 0.47, x2: 0.175, y: 0.178}, {x1: 0.48, x2: 0.79, y: 0.178}];
  const decPurple = [{x1: -0.04, x2: 0.134, y: 0.056}, {x1: 0.46, x2: 0.275, y: 0.06}];
  mk(736, 764, 119.7, 186.7, [10, 8, 28, 4], {
    x: {domain: [-0.106, 1.016], ticks: [0, 0.2, 0.4, 0.6, 0.8], tickFormat: f1, tickSize: 0, tickPadding: 6, label: null},
    y: {domain: yDom, axis: null},
    marks: [Plot.frame({stroke: '#555', strokeWidth: 1.2}), inX([0.1, 0.2, 0.3, 0.4, 0.5, 0.6, 0.7, 0.8, 0.9], 186.7, 3), inY(yT, 119.7),
      Plot.ruleY(hThresholds, gray), Plot.ruleX(hDecayMarks, gray),
      Plot.line(zip(hDecayTimeVPD, hDecayVPD), {x: 'x', y: 'y', stroke: '#b08fcc', strokeWidth: 0.8}),
      Plot.line(zip(hDecayTimeLPD, hDecayLPD), {x: 'x', y: 'y', stroke: '#8e9ae0', strokeWidth: 0.8}),
      Plot.dot(zip(hDecayTimeVPD, hDecayVPD), {x: 'x', y: 'y', r: 2.6, fill: '#9a66bb', stroke: '#e2d4ee', strokeWidth: 0.5}),
      Plot.dot(zip(hDecayTimeLPD, hDecayLPD), {x: 'x', y: 'y', r: 2.6, fill: '#4a5cd0', stroke: '#d2d8f4', strokeWidth: 0.5}),
      Plot.arrow(decNavy, Object.assign(aOpt(NAVY), {strokeWidth: 1.1})),
      Plot.arrow(decPurple, aOpt('#9a5cbc'))]
  }, 12.5);
  put('538 ms', 675, 898, {size: 15, color: NAVY});
  put('112 ms', 674.5, 940, {size: 15, color: '#9a5cbc'});
  put('628 ms', 827.5, 898, {size: 15, color: NAVY});
  put('93 ms', 775.5, 940, {size: 15, color: '#9a5cbc'});
  legPair(800, 808, 776, 791, 13.5, ['L-PD', 'V-PD']);
  title('Normalized current (a. u.)', 560, 857, -90, 14.5);
  title('Time (s)', 666.5, 980, 0);
  title('Time (s)', 800, 980, 0);
}

// ================= PANEL I =================
panelLetter('i', 871, 725);
{
  const svgI = mk(934.3, 763.3, 209, 191.7, [10, 8, 26, 40], {
    x: {type: 'log', domain: [0.0186, 933], ticks: [0.1, 1, 10, 100, 1000], tickFormat: p10, tickSize: 0, tickPadding: 5, label: null},
    y: {type: 'log', domain: [1e9, 1e14], ticks: decades(9, 14), tickFormat: p10, tickSize: 0, tickPadding: 4, label: null},
    marks: [Plot.frame({stroke: '#555', strokeWidth: 1.2}), inX(logMinor(0.0186, 933), 191.7, 2.5), inY(decades(9, 14), 209, 3),
      Plot.arrow([{a: iLPD, b: iVPD}], {x1: d => d.a.R, y1: d => d.a.D, x2: d => d.b.R, y2: d => d.b.D, stroke: '#333', strokeWidth: 0.9, headLength: 6, inset: 5}),
      Plot.dot(zip(iPhaseR, iPhaseD), {x: 'x', y: 'y', r: 3.6, fill: '#d7d11d'}),
      Plot.dot(zip(iPNR, iPND), {x: 'x', y: 'y', r: 3.4, symbol: 'square', fill: '#3f9a78'}),
      Plot.dot(zip(iSchR, iSchD), {x: 'x', y: 'y', r: 4, symbol: 'triangle', fill: '#ee5e5e'}),
      Plot.dot([iLPD], {x: 'R', y: 'D', r: 6, symbol: 'star', fill: '#3c52cc'}),
      Plot.dot([iVPD], {x: 'R', y: 'D', r: 6, symbol: 'star', fill: '#7e4aa6'})]
  }, 8.5);
  const sx = svgI.scale('x'), sy = svgI.scale('y');
  const x1 = sx.apply(iLPD.R), y1 = sy.apply(iLPD.D), x2 = sx.apply(iVPD.R), y2 = sy.apply(iVPD.D);
  const ang = Math.atan2(y2 - y1, x2 - x1) * 180 / Math.PI;
  const el = document.createElementNS('http://www.w3.org/2000/svg', 'ellipse');
  const cx = (x1 + x2) / 2 + 2, cy = (y1 + y2) / 2 - 2;
  el.setAttribute('cx', cx); el.setAttribute('cy', cy);
  el.setAttribute('rx', Math.hypot(x2 - x1, y2 - y1) / 2 + 12); el.setAttribute('ry', 13);
  el.setAttribute('transform', `rotate(${ang} ${cx} ${cy})`);
  el.setAttribute('fill', '#c7c1e9'); el.setAttribute('fill-opacity', '0.85');
  svgI.insertBefore(el, svgI.querySelector('g[aria-label="arrow"]'));
  const leg = [['●', '#d7d11d', 'Phase junction', 9], ['■', '#3f9a78', 'PN junction', 8.5], ['▲', '#ee5e5e', 'Schottky junction', 8.5], ['★', '#3c52cc', 'LPD', 11], ['★', '#7e4aa6', 'VPD', 11]];
  leg.forEach((g, k) => {
    const y = 774 + k * 15.6;
    put(g[0], 945, y, {size: g[3], color: g[1], family: '"DejaVu Sans", sans-serif'});
    put(g[2], 955, y, {size: 10.3, align: 'left'});
  });
  put('VPD (This Work)', 1089, 775.5, {size: 12.5, color: '#8a5ab2'});
  put('LPD', 1045.5, 871, {size: 13, color: '#3d55cc'});
  title('D* (Jones)', 901.5, 860, -90);
  title('R (mW)', 1033, 983, 0);
}

// ================= CAPTION & BODY TEXT =================
function jline(html, x, yc, W, size, just, lsDefault = 0, lsMax = 0.6) {
  const d = document.createElement('div');
  d.className = 'ln';
  d.innerHTML = html;
  d.style.left = x + 'px';
  d.style.top = (yc - size * 0.62) + 'px';
  d.style.fontSize = size + 'px';
  d.style.letterSpacing = lsDefault + 'px';
  page.appendChild(d);
  if (just) {
    const txt = d.textContent;
    const nch = txt.length, nsp = (txt.match(/ /g) || []).length;
    d.style.letterSpacing = '0px';
    let w = d.getBoundingClientRect().width;
    const ls = Math.max(-0.5, Math.min(lsMax, (W - w) * 0.6 / nch));
    d.style.letterSpacing = ls + 'px';
    w = d.getBoundingClientRect().width;
    if (nsp) d.style.wordSpacing = ((W - w) / nsp) + 'px';
  }
}
const captionLines = [
  'Figure 4. Optoelectrical properties of LPD and VPD. <i>I</i>−<i>V</i> curves in the dark and under various incident optical powers (<i>λ</i> = 254 nm)',
  'obtained from the (a) LPD and (b) VPD, respectively. (c) Dependence of the <b>Δ</b><i>V</i><sub>oc</sub> shifts on the incident powers and dependence of the <i>I</i><sub>oc</sub>',
  'on <b>Δ</b><i>V</i><sub>oc</sub> are extracted from <i>I</i>−<i>V</i> curves. (d) Change in <i>I</i><sub>light</sub> of VPD at different UV intensities; the inset shows the photolinearity fitted using',
  'power laws for LPD and VPD. (e) Measurement of variations in <i>D</i>* and <i>R</i> of VPD and LPD according to varying UV intensity extracted from',
  '<i>I</i>−<i>T</i> curves. (f) Spectral broadband linear-scaled <i>R</i> value of the VPD and LPD at <i>V</i><sub>read</sub> = 0 V; the inset shows the semilog-scale spectral <i>R</i> for',
  'LPD and VPD showing a high <i>R</i><sub>254</sub>/<i>R</i><sub>400</sub> rejection ratio. (g) Normalized photoconductance with response time according to LPD and VPD,',
  'respectively. (h) Corresponding to the response time of the enlarged rise and decay edge at <i>V</i><sub>read</sub> = 0 V under 254 nm. (i) Quantitative',
  'comparison for <i>R</i> and <i>D</i>* extracted reported values for self-powered UVC PD-based <i>β</i>-Ga<sub>2</sub>O<sub>3</sub> thin films.'
];
captionLines.forEach((h, k) => jline(h, 106.5, 1019 + k * 20.75, 1050.5, 16.8, k < captionLines.length - 1, 0.55, 0.85));
const G = 'Si:Ga<sub>2</sub>O<sub>3</sub>';
const leftLines = [
  'mobility, diminishing power efficiency, and compromising',
  'reliability.',
  'To overcome defect-related material limitation by modulat-',
  `ing conduction paths, the epitaxial ${G} thin films on`,
  'HPSN were transferred from the sapphire substrate and',
  'subsequently bonded to the silicon substrate through wafer',
  'bonding. For a low-temperature and low-stress bonding',
  'technique with a thin (&lt;3 <i>μ</i>m) bonding layer, the use of Sn',
  'and Au as bonding materials was avoided to prevent thermal',
  'diffusion and void formation.<sup class="lk">47−49</sup> The details of the Ti, Sn,',
  'and Ni eutectic bonding process are provided in the',
  'Supporting Information (<span class="lk">Figure S8</span>). Cross-sectional SEM',
  'images of a bonded eutectic metal alloy without any voids are',
  'shown in <span class="lk">Figure 2</span>f. The bonding metal as Schottky metal (Ni/',
  `Au) was deposited on the epitaxial ${G} thin films on`,
  'HPSN. Once the two wafers were attached at 250 °C with 30'
];
const rightLines = [
  `kgf/cm<sup>2</sup> pressure, the transferred epitaxial ${G} mem-`,
  'branes were then peeled off from the sapphire substrates, as',
  'shown in (<span class="lk">Figures 2</span>g, <span class="lk">S9, and S10</span>). The out-of-plane X-ray',
  `rocking curves of the (−201) plane for the epitaxial ${G}`,
  'thin films and membranes before and after the transfer are',
  `conducted (<span class="lk">Figure 2</span>h). The epitaxial ${G} thin films`,
  'exhibited a fwhm value of 1.48° for the (−201) plane, and',
  'membranes also exhibited a fwhm value of 1.50° after the',
  'transfer process, indicating that the epilayer transfer technique',
  `effectively separated the epitaxial ${G} membranes from`,
  'the rigid sapphire substrates while preserving their crystallinity.',
  `The optical bandgap of epitaxial ${G} thin films on the`,
  'bare-sapphire substrates and HPSN was characterized by a',
  `UV−Visible spectrometer. Both epitaxial ${G} thin films`,
  'on bare-sapphire substrates and HPSN exhibit a large',
  'absorption in the UVC region (200−280 nm), as shown in'
];
leftLines.forEach((h, k) => {
  const ind = k === 2 ? 20 : 0;
  jline(h, 107 + ind, 1208.5 + k * 23.52, 500 - ind, 17.3, k !== 1, 0.4);
});
rightLines.forEach((h, k) => jline(h, 657.5, 1208.5 + k * 23.52, 499.5, 17.3, true, 0.4));

// ================= FOOTER =================
put('F', 633, 1600, {size: 14, weight: 'bold'});
put('https://doi.org/10.1021/acsnano.5c01454', 1157, 1601, {size: 11.5, color: '#1d5fae', align: 'right'});
put('<i>ACS Nano</i> XXXX, XXX, XXX−XXX', 1157, 1615.5, {size: 11.5, italic: true, align: 'right'});
</script></body></html>
